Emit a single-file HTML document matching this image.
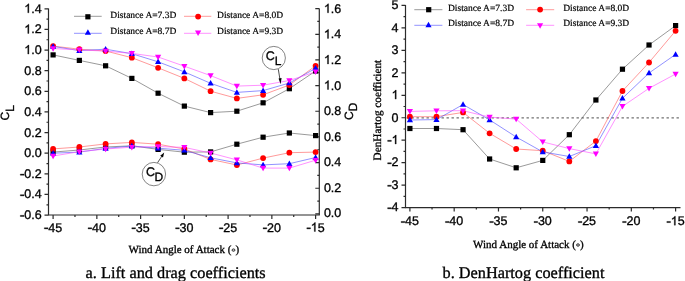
<!DOCTYPE html>
<html><head><meta charset="utf-8"><style>
html,body{margin:0;padding:0;background:#fff;}
body{width:685px;height:281px;overflow:hidden;}
svg{display:block;text-rendering:geometricPrecision;filter:blur(0.3px);}
text{stroke:#000;stroke-width:0.32px;}
.one{fill:#000;stroke:#000;stroke-width:52px;}
.sans{font-family:"Liberation Sans",sans-serif;font-size:12.5px;fill:#000;}
.serif{font-family:"Liberation Serif",serif;fill:#000;}
.leg{font-size:9.5px;stroke-width:0.2px;}
</style></head><body>
<svg width="685" height="281" viewBox="0 0 685 281">
<path d="M48.5 8.5V215.0H319.3V8.5" fill="none" stroke="#2b2b2b" stroke-width="1.2"/>
<path d="M44.5 8.8H48.5 M46.5 19.12H48.5 M44.5 29.43H48.5 M46.5 39.75H48.5 M44.5 50.06H48.5 M46.5 60.38H48.5 M44.5 70.69H48.5 M46.5 81.01H48.5 M44.5 91.32H48.5 M46.5 101.64H48.5 M44.5 111.95H48.5 M46.5 122.27H48.5 M44.5 132.58H48.5 M46.5 142.9H48.5 M44.5 153.21H48.5 M46.5 163.53H48.5 M44.5 173.84H48.5 M46.5 184.16H48.5 M44.5 194.47H48.5 M46.5 204.79H48.5 M44.5 215.1H48.5 M53.1 215.0V219.0 M74.97 215.0V217.0 M96.85 215.0V219.0 M118.72 215.0V217.0 M140.6 215.0V219.0 M162.47 215.0V217.0 M184.35 215.0V219.0 M206.22 215.0V217.0 M228.1 215.0V219.0 M249.97 215.0V217.0 M271.85 215.0V219.0 M293.73 215.0V217.0 M315.6 215.0V219.0 M315.3 8.62H319.3 M317.3 21.45H319.3 M315.3 34.28H319.3 M317.3 47.11H319.3 M315.3 59.94H319.3 M317.3 72.77H319.3 M315.3 85.6H319.3 M317.3 98.43H319.3 M315.3 111.26H319.3 M317.3 124.09H319.3 M315.3 136.92H319.3 M317.3 149.75H319.3 M315.3 162.58H319.3 M317.3 175.41H319.3 M315.3 188.24H319.3 M317.3 201.07H319.3 M315.3 213.9H319.3" stroke="#2b2b2b" stroke-width="1.2" fill="none"/>
<g class="sans"><path d="M763 0H583V1147Q430 1003 223 936V1110Q390 1180 490 1280Q600 1390 646 1472H763Z" transform="translate(24.22 12.80) scale(0.006104 -0.006104)" class="one"/><text x="31.18" y="12.8">.4</text><path d="M763 0H583V1147Q430 1003 223 936V1110Q390 1180 490 1280Q600 1390 646 1472H763Z" transform="translate(24.22 33.43) scale(0.006104 -0.006104)" class="one"/><text x="31.18" y="33.43">.2</text><path d="M763 0H583V1147Q430 1003 223 936V1110Q390 1180 490 1280Q600 1390 646 1472H763Z" transform="translate(24.22 54.06) scale(0.006104 -0.006104)" class="one"/><text x="31.18" y="54.06">.0</text><text x="24.22" y="74.69">0.8</text><text x="24.22" y="95.32">0.6</text><text x="24.22" y="115.95">0.4</text><text x="24.22" y="136.58">0.2</text><text x="24.22" y="157.21">0.0</text><path d="M40 425H650V615H40Z" transform="translate(20.06 177.84) scale(0.006104 -0.006104)" class="one"/><text x="24.22" y="177.84">0.2</text><path d="M40 425H650V615H40Z" transform="translate(20.06 198.47) scale(0.006104 -0.006104)" class="one"/><text x="24.22" y="198.47">0.4</text><path d="M40 425H650V615H40Z" transform="translate(20.06 219.10) scale(0.006104 -0.006104)" class="one"/><text x="24.22" y="219.1">0.6</text><path d="M40 425H650V615H40Z" transform="translate(44.07 231.50) scale(0.006104 -0.006104)" class="one"/><text x="48.23" y="231.5">45</text><path d="M40 425H650V615H40Z" transform="translate(87.82 231.50) scale(0.006104 -0.006104)" class="one"/><text x="91.98" y="231.5">40</text><path d="M40 425H650V615H40Z" transform="translate(131.57 231.50) scale(0.006104 -0.006104)" class="one"/><text x="135.73" y="231.5">35</text><path d="M40 425H650V615H40Z" transform="translate(175.32 231.50) scale(0.006104 -0.006104)" class="one"/><text x="179.48" y="231.5">30</text><path d="M40 425H650V615H40Z" transform="translate(219.07 231.50) scale(0.006104 -0.006104)" class="one"/><text x="223.23" y="231.5">25</text><path d="M40 425H650V615H40Z" transform="translate(262.82 231.50) scale(0.006104 -0.006104)" class="one"/><text x="266.98" y="231.5">20</text><path d="M40 425H650V615H40Z" transform="translate(306.57 231.50) scale(0.006104 -0.006104)" class="one"/><path d="M763 0H583V1147Q430 1003 223 936V1110Q390 1180 490 1280Q600 1390 646 1472H763Z" transform="translate(310.73 231.50) scale(0.006104 -0.006104)" class="one"/><text x="317.68" y="231.5">5</text><path d="M763 0H583V1147Q430 1003 223 936V1110Q390 1180 490 1280Q600 1390 646 1472H763Z" transform="translate(323.90 12.81) scale(0.006104 -0.006104)" class="one"/><text x="330.85" y="12.81">.6</text><path d="M763 0H583V1147Q430 1003 223 936V1110Q390 1180 490 1280Q600 1390 646 1472H763Z" transform="translate(323.90 38.38) scale(0.006104 -0.006104)" class="one"/><text x="330.85" y="38.38">.4</text><path d="M763 0H583V1147Q430 1003 223 936V1110Q390 1180 490 1280Q600 1390 646 1472H763Z" transform="translate(323.90 63.96) scale(0.006104 -0.006104)" class="one"/><text x="330.85" y="63.96">.2</text><path d="M763 0H583V1147Q430 1003 223 936V1110Q390 1180 490 1280Q600 1390 646 1472H763Z" transform="translate(323.90 89.53) scale(0.006104 -0.006104)" class="one"/><text x="330.85" y="89.53">.0</text><text x="323.9" y="115.1">0.8</text><text x="323.9" y="140.68">0.6</text><text x="323.9" y="166.25">0.4</text><text x="323.9" y="191.83">0.2</text><text x="323.9" y="217.4">0.0</text></g>
<path d="M405.5 5.1V207.6H680.5" fill="none" stroke="#2b2b2b" stroke-width="1.2"/>
<path d="M401.5 5.4H405.5 M403.5 16.63H405.5 M401.5 27.87H405.5 M403.5 39.1H405.5 M401.5 50.34H405.5 M403.5 61.57H405.5 M401.5 72.81H405.5 M403.5 84.05H405.5 M401.5 95.28H405.5 M403.5 106.52H405.5 M401.5 117.75H405.5 M403.5 128.98H405.5 M401.5 140.22H405.5 M403.5 151.46H405.5 M401.5 162.69H405.5 M403.5 173.92H405.5 M401.5 185.16H405.5 M403.5 196.4H405.5 M401.5 207.63H405.5 M409.9 207.6V211.6 M432.04 207.6V209.6 M454.18 207.6V211.6 M476.33 207.6V209.6 M498.47 207.6V211.6 M520.61 207.6V209.6 M542.75 207.6V211.6 M564.9 207.6V209.6 M587.04 207.6V211.6 M609.18 207.6V209.6 M631.32 207.6V211.6 M653.47 207.6V209.6 M675.61 207.6V211.6" stroke="#2b2b2b" stroke-width="1.2" fill="none"/>
<g class="sans"><text x="391.55" y="9.2">5</text><text x="391.55" y="31.67">4</text><text x="391.55" y="54.14">3</text><text x="391.55" y="76.61">2</text><path d="M763 0H583V1147Q430 1003 223 936V1110Q390 1180 490 1280Q600 1390 646 1472H763Z" transform="translate(391.55 99.08) scale(0.006104 -0.006104)" class="one"/><text x="391.55" y="121.55">0</text><path d="M40 425H650V615H40Z" transform="translate(387.39 144.02) scale(0.006104 -0.006104)" class="one"/><path d="M763 0H583V1147Q430 1003 223 936V1110Q390 1180 490 1280Q600 1390 646 1472H763Z" transform="translate(391.55 144.02) scale(0.006104 -0.006104)" class="one"/><path d="M40 425H650V615H40Z" transform="translate(387.39 166.49) scale(0.006104 -0.006104)" class="one"/><text x="391.55" y="166.49">2</text><path d="M40 425H650V615H40Z" transform="translate(387.39 188.96) scale(0.006104 -0.006104)" class="one"/><text x="391.55" y="188.96">3</text><path d="M40 425H650V615H40Z" transform="translate(387.39 211.43) scale(0.006104 -0.006104)" class="one"/><text x="391.55" y="211.43">4</text><path d="M40 425H650V615H40Z" transform="translate(400.87 225.20) scale(0.006104 -0.006104)" class="one"/><text x="405.03" y="225.2">45</text><path d="M40 425H650V615H40Z" transform="translate(445.15 225.20) scale(0.006104 -0.006104)" class="one"/><text x="449.31" y="225.2">40</text><path d="M40 425H650V615H40Z" transform="translate(489.44 225.20) scale(0.006104 -0.006104)" class="one"/><text x="493.6" y="225.2">35</text><path d="M40 425H650V615H40Z" transform="translate(533.72 225.20) scale(0.006104 -0.006104)" class="one"/><text x="537.88" y="225.2">30</text><path d="M40 425H650V615H40Z" transform="translate(578.01 225.20) scale(0.006104 -0.006104)" class="one"/><text x="582.17" y="225.2">25</text><path d="M40 425H650V615H40Z" transform="translate(622.29 225.20) scale(0.006104 -0.006104)" class="one"/><text x="626.45" y="225.2">20</text><path d="M40 425H650V615H40Z" transform="translate(666.58 225.20) scale(0.006104 -0.006104)" class="one"/><path d="M763 0H583V1147Q430 1003 223 936V1110Q390 1180 490 1280Q600 1390 646 1472H763Z" transform="translate(670.74 225.20) scale(0.006104 -0.006104)" class="one"/><text x="677.69" y="225.2">5</text></g>
<path d="M406.5 117.9H680.5" stroke="#707070" stroke-width="1.3" stroke-dasharray="2.4 2.6"/>
<polyline points="53.1,54.9 79.35,60.4 105.6,65.8 131.85,78.4 158.1,93.2 184.35,106.1 210.6,112.6 236.85,111.2 263.1,102.8 289.35,88.7 315.6,71" fill="none" stroke="#555555" stroke-width="0.6"/><polyline points="53.1,46.1 79.35,49.2 105.6,51 131.85,57.7 158.1,67.8 184.35,78.4 210.6,91.2 236.85,98.4 263.1,94.8 289.35,85 315.6,65.8" fill="none" stroke="#ff5555" stroke-width="0.6"/><polyline points="53.1,46.4 79.35,50.6 105.6,49.2 131.85,53.7 158.1,61.8 184.35,71.9 210.6,83.3 236.85,92.4 263.1,90.6 289.35,83 315.6,68.3" fill="none" stroke="#4848ff" stroke-width="0.6"/><polyline points="53.1,48.5 79.35,49.9 105.6,51.1 131.85,53.4 158.1,57 184.35,66.2 210.6,75.6 236.85,86.1 263.1,85.2 289.35,80.5 315.6,71.8" fill="none" stroke="#ff48ff" stroke-width="0.6"/><polyline points="53.1,152.1 79.35,150 105.6,147 131.85,145.8 158.1,149.4 184.35,152.2 210.6,151.9 236.85,144.2 263.1,137.2 289.35,133 315.6,135.6" fill="none" stroke="#555555" stroke-width="0.6"/><polyline points="53.1,148.9 79.35,147 105.6,143.9 131.85,142.4 158.1,144.2 184.35,149 210.6,159.4 236.85,165 263.1,158.1 289.35,152.7 315.6,152.1" fill="none" stroke="#ff5555" stroke-width="0.6"/><polyline points="53.1,153.2 79.35,152.1 105.6,148.4 131.85,146 158.1,148.2 184.35,150.3 210.6,157.8 236.85,162.9 263.1,164.9 289.35,163.7 315.6,157.5" fill="none" stroke="#4848ff" stroke-width="0.6"/><polyline points="53.1,156 79.35,151.7 105.6,149 131.85,147.2 158.1,146.5 184.35,147.4 210.6,153 236.85,159.9 263.1,168.1 289.35,168.1 315.6,160.2" fill="none" stroke="#ff48ff" stroke-width="0.6"/><polyline points="409.9,128.5 436.47,128.5 463.04,129.7 489.61,159 516.18,167.8 542.75,160.4 569.32,134.7 595.89,100 622.46,69.2 649.03,45 675.6,25.6" fill="none" stroke="#555555" stroke-width="0.6"/><polyline points="409.9,116.7 436.47,116.7 463.04,112.4 489.61,133.3 516.18,149 542.75,150.7 569.32,161.4 595.89,141.1 622.46,91 649.03,62.5 675.6,30.8" fill="none" stroke="#ff5555" stroke-width="0.6"/><polyline points="409.9,120 436.47,119.6 463.04,104.5 489.61,119.9 516.18,137 542.75,151.9 569.32,156.5 595.89,145.7 622.46,98.3 649.03,73 675.6,54.4" fill="none" stroke="#4848ff" stroke-width="0.6"/><polyline points="409.9,111.4 436.47,110.8 463.04,110.7 489.61,117.1 516.18,119.1 542.75,141.9 569.32,148.6 595.89,153.9 622.46,106.4 649.03,88.3 675.6,74" fill="none" stroke="#ff48ff" stroke-width="0.6"/>
<rect x="50.5" y="52.3" width="5.2" height="5.2" fill="#000000"/><rect x="76.75" y="57.8" width="5.2" height="5.2" fill="#000000"/><rect x="103" y="63.2" width="5.2" height="5.2" fill="#000000"/><rect x="129.25" y="75.8" width="5.2" height="5.2" fill="#000000"/><rect x="155.5" y="90.6" width="5.2" height="5.2" fill="#000000"/><rect x="181.75" y="103.5" width="5.2" height="5.2" fill="#000000"/><rect x="208" y="110" width="5.2" height="5.2" fill="#000000"/><rect x="234.25" y="108.6" width="5.2" height="5.2" fill="#000000"/><rect x="260.5" y="100.2" width="5.2" height="5.2" fill="#000000"/><rect x="286.75" y="86.1" width="5.2" height="5.2" fill="#000000"/><rect x="313" y="68.4" width="5.2" height="5.2" fill="#000000"/><circle cx="53.1" cy="46.1" r="2.9" fill="#ff0000"/><circle cx="79.35" cy="49.2" r="2.9" fill="#ff0000"/><circle cx="105.6" cy="51" r="2.9" fill="#ff0000"/><circle cx="131.85" cy="57.7" r="2.9" fill="#ff0000"/><circle cx="158.1" cy="67.8" r="2.9" fill="#ff0000"/><circle cx="184.35" cy="78.4" r="2.9" fill="#ff0000"/><circle cx="210.6" cy="91.2" r="2.9" fill="#ff0000"/><circle cx="236.85" cy="98.4" r="2.9" fill="#ff0000"/><circle cx="263.1" cy="94.8" r="2.9" fill="#ff0000"/><circle cx="289.35" cy="85" r="2.9" fill="#ff0000"/><circle cx="315.6" cy="65.8" r="2.9" fill="#ff0000"/><path d="M53.1 43.2L56.2 48.7H50Z" fill="#0000ff"/><path d="M79.35 47.4L82.45 52.9H76.25Z" fill="#0000ff"/><path d="M105.6 46L108.7 51.5H102.5Z" fill="#0000ff"/><path d="M131.85 50.5L134.95 56H128.75Z" fill="#0000ff"/><path d="M158.1 58.6L161.2 64.1H155Z" fill="#0000ff"/><path d="M184.35 68.7L187.45 74.2H181.25Z" fill="#0000ff"/><path d="M210.6 80.1L213.7 85.6H207.5Z" fill="#0000ff"/><path d="M236.85 89.2L239.95 94.7H233.75Z" fill="#0000ff"/><path d="M263.1 87.4L266.2 92.9H260Z" fill="#0000ff"/><path d="M289.35 79.8L292.45 85.3H286.25Z" fill="#0000ff"/><path d="M315.6 65.1L318.7 70.6H312.5Z" fill="#0000ff"/><path d="M53.1 51.7L56.2 46.2H50Z" fill="#ff00ff"/><path d="M79.35 53.1L82.45 47.6H76.25Z" fill="#ff00ff"/><path d="M105.6 54.3L108.7 48.8H102.5Z" fill="#ff00ff"/><path d="M131.85 56.6L134.95 51.1H128.75Z" fill="#ff00ff"/><path d="M158.1 60.2L161.2 54.7H155Z" fill="#ff00ff"/><path d="M184.35 69.4L187.45 63.9H181.25Z" fill="#ff00ff"/><path d="M210.6 78.8L213.7 73.3H207.5Z" fill="#ff00ff"/><path d="M236.85 89.3L239.95 83.8H233.75Z" fill="#ff00ff"/><path d="M263.1 88.4L266.2 82.9H260Z" fill="#ff00ff"/><path d="M289.35 83.7L292.45 78.2H286.25Z" fill="#ff00ff"/><path d="M315.6 75L318.7 69.5H312.5Z" fill="#ff00ff"/><rect x="50.5" y="149.5" width="5.2" height="5.2" fill="#000000"/><rect x="76.75" y="147.4" width="5.2" height="5.2" fill="#000000"/><rect x="103" y="144.4" width="5.2" height="5.2" fill="#000000"/><rect x="129.25" y="143.2" width="5.2" height="5.2" fill="#000000"/><rect x="155.5" y="146.8" width="5.2" height="5.2" fill="#000000"/><rect x="181.75" y="149.6" width="5.2" height="5.2" fill="#000000"/><rect x="208" y="149.3" width="5.2" height="5.2" fill="#000000"/><rect x="234.25" y="141.6" width="5.2" height="5.2" fill="#000000"/><rect x="260.5" y="134.6" width="5.2" height="5.2" fill="#000000"/><rect x="286.75" y="130.4" width="5.2" height="5.2" fill="#000000"/><rect x="313" y="133" width="5.2" height="5.2" fill="#000000"/><circle cx="53.1" cy="148.9" r="2.9" fill="#ff0000"/><circle cx="79.35" cy="147" r="2.9" fill="#ff0000"/><circle cx="105.6" cy="143.9" r="2.9" fill="#ff0000"/><circle cx="131.85" cy="142.4" r="2.9" fill="#ff0000"/><circle cx="158.1" cy="144.2" r="2.9" fill="#ff0000"/><circle cx="184.35" cy="149" r="2.9" fill="#ff0000"/><circle cx="210.6" cy="159.4" r="2.9" fill="#ff0000"/><circle cx="236.85" cy="165" r="2.9" fill="#ff0000"/><circle cx="263.1" cy="158.1" r="2.9" fill="#ff0000"/><circle cx="289.35" cy="152.7" r="2.9" fill="#ff0000"/><circle cx="315.6" cy="152.1" r="2.9" fill="#ff0000"/><path d="M53.1 150L56.2 155.5H50Z" fill="#0000ff"/><path d="M79.35 148.9L82.45 154.4H76.25Z" fill="#0000ff"/><path d="M105.6 145.2L108.7 150.7H102.5Z" fill="#0000ff"/><path d="M131.85 142.8L134.95 148.3H128.75Z" fill="#0000ff"/><path d="M158.1 145L161.2 150.5H155Z" fill="#0000ff"/><path d="M184.35 147.1L187.45 152.6H181.25Z" fill="#0000ff"/><path d="M210.6 154.6L213.7 160.1H207.5Z" fill="#0000ff"/><path d="M236.85 159.7L239.95 165.2H233.75Z" fill="#0000ff"/><path d="M263.1 161.7L266.2 167.2H260Z" fill="#0000ff"/><path d="M289.35 160.5L292.45 166H286.25Z" fill="#0000ff"/><path d="M315.6 154.3L318.7 159.8H312.5Z" fill="#0000ff"/><path d="M53.1 159.2L56.2 153.7H50Z" fill="#ff00ff"/><path d="M79.35 154.9L82.45 149.4H76.25Z" fill="#ff00ff"/><path d="M105.6 152.2L108.7 146.7H102.5Z" fill="#ff00ff"/><path d="M131.85 150.4L134.95 144.9H128.75Z" fill="#ff00ff"/><path d="M158.1 149.7L161.2 144.2H155Z" fill="#ff00ff"/><path d="M184.35 150.6L187.45 145.1H181.25Z" fill="#ff00ff"/><path d="M210.6 156.2L213.7 150.7H207.5Z" fill="#ff00ff"/><path d="M236.85 163.1L239.95 157.6H233.75Z" fill="#ff00ff"/><path d="M263.1 171.3L266.2 165.8H260Z" fill="#ff00ff"/><path d="M289.35 171.3L292.45 165.8H286.25Z" fill="#ff00ff"/><path d="M315.6 163.4L318.7 157.9H312.5Z" fill="#ff00ff"/><rect x="407.3" y="125.9" width="5.2" height="5.2" fill="#000000"/><rect x="433.87" y="125.9" width="5.2" height="5.2" fill="#000000"/><rect x="460.44" y="127.1" width="5.2" height="5.2" fill="#000000"/><rect x="487.01" y="156.4" width="5.2" height="5.2" fill="#000000"/><rect x="513.58" y="165.2" width="5.2" height="5.2" fill="#000000"/><rect x="540.15" y="157.8" width="5.2" height="5.2" fill="#000000"/><rect x="566.72" y="132.1" width="5.2" height="5.2" fill="#000000"/><rect x="593.29" y="97.4" width="5.2" height="5.2" fill="#000000"/><rect x="619.86" y="66.6" width="5.2" height="5.2" fill="#000000"/><rect x="646.43" y="42.4" width="5.2" height="5.2" fill="#000000"/><rect x="673" y="23" width="5.2" height="5.2" fill="#000000"/><circle cx="409.9" cy="116.7" r="2.9" fill="#ff0000"/><circle cx="436.47" cy="116.7" r="2.9" fill="#ff0000"/><circle cx="463.04" cy="112.4" r="2.9" fill="#ff0000"/><circle cx="489.61" cy="133.3" r="2.9" fill="#ff0000"/><circle cx="516.18" cy="149" r="2.9" fill="#ff0000"/><circle cx="542.75" cy="150.7" r="2.9" fill="#ff0000"/><circle cx="569.32" cy="161.4" r="2.9" fill="#ff0000"/><circle cx="595.89" cy="141.1" r="2.9" fill="#ff0000"/><circle cx="622.46" cy="91" r="2.9" fill="#ff0000"/><circle cx="649.03" cy="62.5" r="2.9" fill="#ff0000"/><circle cx="675.6" cy="30.8" r="2.9" fill="#ff0000"/><path d="M409.9 116.8L413 122.3H406.8Z" fill="#0000ff"/><path d="M436.47 116.4L439.57 121.9H433.37Z" fill="#0000ff"/><path d="M463.04 101.3L466.14 106.8H459.94Z" fill="#0000ff"/><path d="M489.61 116.7L492.71 122.2H486.51Z" fill="#0000ff"/><path d="M516.18 133.8L519.28 139.3H513.08Z" fill="#0000ff"/><path d="M542.75 148.7L545.85 154.2H539.65Z" fill="#0000ff"/><path d="M569.32 153.3L572.42 158.8H566.22Z" fill="#0000ff"/><path d="M595.89 142.5L598.99 148H592.79Z" fill="#0000ff"/><path d="M622.46 95.1L625.56 100.6H619.36Z" fill="#0000ff"/><path d="M649.03 69.8L652.13 75.3H645.93Z" fill="#0000ff"/><path d="M675.6 51.2L678.7 56.7H672.5Z" fill="#0000ff"/><path d="M409.9 114.6L413 109.1H406.8Z" fill="#ff00ff"/><path d="M436.47 114L439.57 108.5H433.37Z" fill="#ff00ff"/><path d="M463.04 113.9L466.14 108.4H459.94Z" fill="#ff00ff"/><path d="M489.61 120.3L492.71 114.8H486.51Z" fill="#ff00ff"/><path d="M516.18 122.3L519.28 116.8H513.08Z" fill="#ff00ff"/><path d="M542.75 145.1L545.85 139.6H539.65Z" fill="#ff00ff"/><path d="M569.32 151.8L572.42 146.3H566.22Z" fill="#ff00ff"/><path d="M595.89 157.1L598.99 151.6H592.79Z" fill="#ff00ff"/><path d="M622.46 109.6L625.56 104.1H619.36Z" fill="#ff00ff"/><path d="M649.03 91.5L652.13 86H645.93Z" fill="#ff00ff"/><path d="M675.6 77.2L678.7 71.7H672.5Z" fill="#ff00ff"/>
<path d="M74 16.3H101.7" stroke="#555555" stroke-width="0.6"/><rect x="85.3" y="14.2" width="5.2" height="5.2" fill="#000000"/><text class="serif leg" x="110.3" y="18.2">Distance A=7.3D</text><path d="M74 33.3H101.7" stroke="#4848ff" stroke-width="0.6"/><path d="M87.9 29.3L91 34.8H84.8Z" fill="#0000ff"/><text class="serif leg" x="110.3" y="33.7">Distance A=8.7D</text><path d="M184 16.3H211.3" stroke="#ff5555" stroke-width="0.6"/><circle cx="198.1" cy="16.6" r="2.9" fill="#ff0000"/><text class="serif leg" x="217.1" y="18.2">Distance A=8.0D</text><path d="M184 33.3H211.3" stroke="#ff48ff" stroke-width="0.6"/><path d="M198.1 36L201.2 30.5H195Z" fill="#ff00ff"/><text class="serif leg" x="217.1" y="33.7">Distance A=9.3D</text><path d="M414.3 9.7H442.4" stroke="#555555" stroke-width="0.6"/><rect x="426.1" y="7.1" width="5.2" height="5.2" fill="#000000"/><text class="serif leg" x="448" y="10.8">Distance A=7.3D</text><path d="M414.3 25.3H442.4" stroke="#4848ff" stroke-width="0.6"/><path d="M428.5 21.8L431.6 27.3H425.4Z" fill="#0000ff"/><text class="serif leg" x="448" y="25.8">Distance A=8.7D</text><path d="M526.1 9.7H554.2" stroke="#ff5555" stroke-width="0.6"/><circle cx="540.1" cy="9.6" r="2.9" fill="#ff0000"/><text class="serif leg" x="563.2" y="10.8">Distance A=8.0D</text><path d="M526.1 25.3H554.2" stroke="#ff48ff" stroke-width="0.6"/><path d="M540.1 28.8L543.2 23.3H537Z" fill="#ff00ff"/><text class="serif leg" x="563.2" y="25.8">Distance A=9.3D</text>
<circle cx="273.8" cy="58" r="11.6" fill="#fff" stroke="#333" stroke-width="0.6"/>
<text class="sans" x="265.7" y="59.6" style="font-size:12.5px">C</text><text class="sans" x="274.7" y="65" style="font-size:12px">L</text>
<path d="M278.3 69.2L279.9 79" stroke="#000" stroke-width="0.7"/><path d="M278.6 78.6L281.6 78.1L280.6 84.2Z" fill="#000"/>
<circle cx="153.9" cy="174.1" r="11.7" fill="#fff" stroke="#333" stroke-width="0.6"/>
<text class="sans" x="145.9" y="175.6" style="font-size:12.5px">C</text><text class="sans" x="154.6" y="180.6" style="font-size:12px">D</text>
<path d="M157.6 162.6L162 156" stroke="#000" stroke-width="0.7"/><path d="M160.2 155.8L163 157.6L164.2 152.6Z" fill="#000"/>
<g class="sans" style="font-size:12px"><text transform="translate(9.4 120.4) rotate(-90)">C<tspan dy="4.4" style="font-size:12px">L</tspan></text><text transform="translate(352.8 119.9) rotate(-90)">C<tspan dy="4.3" style="font-size:12px">D</tspan></text></g>
<text class="serif" x="381" y="110.1" text-anchor="middle" transform="rotate(-90 381 110.1)" style="font-size:11.25px">DenHartog coefficient</text>
<text class="serif" x="128.6" y="252.8" style="font-size:11px">Wind Angle of Attack (</text><ellipse cx="233.5" cy="250.1" rx="1.45" ry="1.15" fill="none" stroke="#111" stroke-width="0.9"/><circle cx="233.5" cy="250.1" r="0.35" fill="#333"/><text class="serif" x="235.6" y="252.8" style="font-size:11px">)</text>
<text class="serif" x="473.1" y="247.7" style="font-size:11px">Wind Angle of Attack (</text><ellipse cx="578" cy="245" rx="1.45" ry="1.15" fill="none" stroke="#111" stroke-width="0.9"/><circle cx="578" cy="245" r="0.35" fill="#333"/><text class="serif" x="580.1" y="247.7" style="font-size:11px">)</text>
<text class="serif" x="85.6" y="277.5" style="font-size:16.3px">a. Lift and drag coefficients</text>
<text class="serif" x="442.5" y="277.5" style="font-size:16.3px">b. DenHartog coefficient</text>
</svg>
</body></html>
